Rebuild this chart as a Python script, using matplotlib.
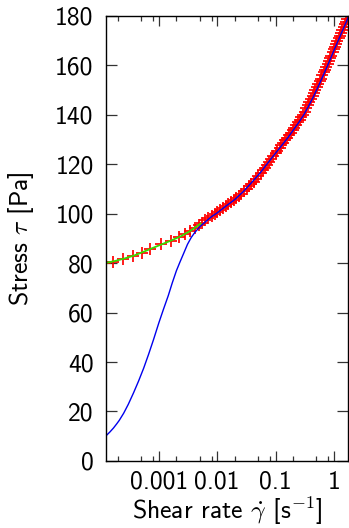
import matplotlib
matplotlib.use("Agg")
import matplotlib.pyplot as plt
from matplotlib.ticker import FixedLocator, FuncFormatter, NullFormatter

plt.rcParams["font.family"] = "cmss10"
plt.rcParams["mathtext.fontset"] = "cm"
plt.rcParams["axes.unicode_minus"] = False

# measured flow curve (red crosses)
rate_data = [1.20e-4, 1.65e-4, 2.45e-4, 3.6e-4, 5.1e-4, 7.1e-4, 1.1e-3, 1.6e-3,
             2.2e-3, 2.8e-3, 3.4e-3, 4.1e-3, 4.8e-3, 5.5e-3, 6.3e-3, 7.1e-3,
             8.0e-3, 9.0e-3, 0.0101, 0.0113, 0.0126, 0.0140, 0.0156, 0.0173,
             0.0192, 0.0213, 0.0236, 0.0261, 0.0288, 0.0318, 0.0350, 0.0385,
             0.0423, 0.0464, 0.0508, 0.0555, 0.0606, 0.066, 0.072, 0.078,
             0.085, 0.092, 0.100, 0.108, 0.117, 0.126, 0.136, 0.147, 0.158,
             0.170, 0.183, 0.196, 0.210, 0.225, 0.241, 0.258, 0.276, 0.295,
             0.315, 0.336, 0.358, 0.381, 0.405, 0.43, 0.456, 0.483, 0.511,
             0.54, 0.57, 0.60, 0.635, 0.67, 0.705, 0.74, 0.78, 0.82, 0.86,
             0.90, 0.95, 1.00, 1.05, 1.10, 1.15, 1.21, 1.27, 1.33, 1.40, 1.47,
             1.54, 1.61, 1.69, 1.77]
stress_data = [80.0, 80.6, 81.6, 82.8, 84.2, 85.8, 87.6, 89.0,
               90.6, 91.9, 93.0, 94.2, 95.4, 96.4, 97.3, 98.1,
               99.0, 99.8, 100.6, 101.4, 102.2, 103.0, 103.8, 104.6,
               105.5, 106.3, 107.2, 108.1, 109.0, 110.0, 111.0, 112.0,
               113.0, 114.1, 115.2, 116.3, 117.5, 118.6, 119.8, 121.0,
               122.2, 123.3, 124.4, 125.5, 126.6, 127.6, 128.6, 129.7, 130.7,
               131.7, 132.7, 133.7, 134.8, 135.9, 136.9, 137.9, 138.9, 140.0,
               141.3, 142.6, 143.9, 145.1, 146.4, 147.6, 148.8, 150.0, 151.2,
               152.3, 153.5, 154.6, 155.9, 157.1, 158.2, 159.3, 160.5, 161.7,
               162.8, 163.9, 165.2, 166.4, 167.5, 168.6, 169.7, 170.9, 172.0,
               173.1, 174.3, 175.5, 176.6, 177.7, 178.8, 180.0]

# low-rate fit (green)
rate_low = [1.25e-4, 1.8e-4, 2.6e-4, 3.8e-4, 5.5e-4, 8e-4, 1.15e-3, 1.65e-3,
            2.4e-3, 3.4e-3, 4.3e-3, 5.2e-3]
stress_low = [80.1, 80.9, 81.9, 83.1, 84.6, 86.2, 87.7, 89.2,
              90.9, 92.9, 94.6, 96.0]

# model curve (blue)
rate_model = [1.25e-4, 1.45e-4, 1.67e-4, 1.9e-4, 2.1e-4, 2.5e-4, 3.0e-4, 3.7e-4,
              4.5e-4, 5.5e-4, 6.7e-4, 8.1e-4, 1.0e-3, 1.2e-3, 1.45e-3, 1.7e-3,
              2.0e-3, 2.3e-3, 2.65e-3, 3.1e-3, 3.6e-3, 4.2e-3, 5.1e-3, 6.5e-3,
              8.0e-3, 0.010, 0.014, 0.020, 0.028, 0.040, 0.055, 0.070, 0.090,
              0.12, 0.16, 0.20, 0.25, 0.30, 0.37, 0.45, 0.55, 0.70, 0.85, 1.0,
              1.2, 1.4, 1.6, 1.8]
stress_model = [10.2, 11.7, 13.3, 15.0, 16.4, 19.3, 22.9, 27.6,
                32.3, 37.5, 43.2, 49.0, 55.8, 61.3, 66.8, 72.0,
                76.9, 80.4, 83.8, 87.6, 90.4, 92.6, 94.8, 97.0,
                98.8, 100.3, 103.0, 105.7, 108.9, 112.9, 116.6, 119.8, 123.1,
                126.8, 130.5, 133.7, 136.9, 139.7, 143.6, 147.5, 151.9, 157.4,
                162.0, 166.0, 170.3, 174.0, 177.1, 180.0]

x_ticks = [0.001, 0.01, 0.1, 1]
y_ticks = [0, 20, 40, 60, 80, 100, 120, 140, 160, 180]

fig = plt.figure(figsize=(3.49, 5.28), dpi=100)
ax = fig.add_axes([0.304, 0.127, 0.693, 0.843])

ax.plot(rate_data, stress_data, linestyle="none", marker="+", color="#ff0000",
        markersize=8.5, markeredgewidth=1.25)
ax.plot(rate_low, stress_low, color="#33dd00", linewidth=1.3)
ax.plot(rate_model, stress_model, color="#0000ee", linewidth=1.0)

ax.set_xscale("log")
ax.set_xlim(1.25e-4, 1.74)
ax.set_ylim(0, 180)

minor = [m * 10.0**e for e in range(-4, 1) for m in (2, 5, 8)]
ax.xaxis.set_major_locator(FixedLocator(x_ticks))
ax.xaxis.set_major_formatter(FuncFormatter(lambda v, p: "%g" % v))
ax.xaxis.set_minor_locator(FixedLocator(minor))
ax.xaxis.set_minor_formatter(NullFormatter())
ax.set_yticks(y_ticks)

ax.tick_params(which="both", direction="in", top=True, right=True,
               labelsize=18.5, color="#333333", width=0.9)
ax.tick_params(axis="x", which="major", length=7.5, pad=7)
ax.tick_params(axis="x", which="minor", length=3.5)
ax.tick_params(axis="y", which="major", length=8, pad=9)
for s in ax.spines.values():
    s.set_linewidth(1.0)

ax.set_xlabel(r"Shear rate $\dot{\gamma}$ [s$^{-1}$]", fontsize=18.5, labelpad=1)
ax.set_ylabel(r"Stress $\tau$ [Pa]", fontsize=18.5, labelpad=14)

fig.savefig("out.png", dpi=100)
